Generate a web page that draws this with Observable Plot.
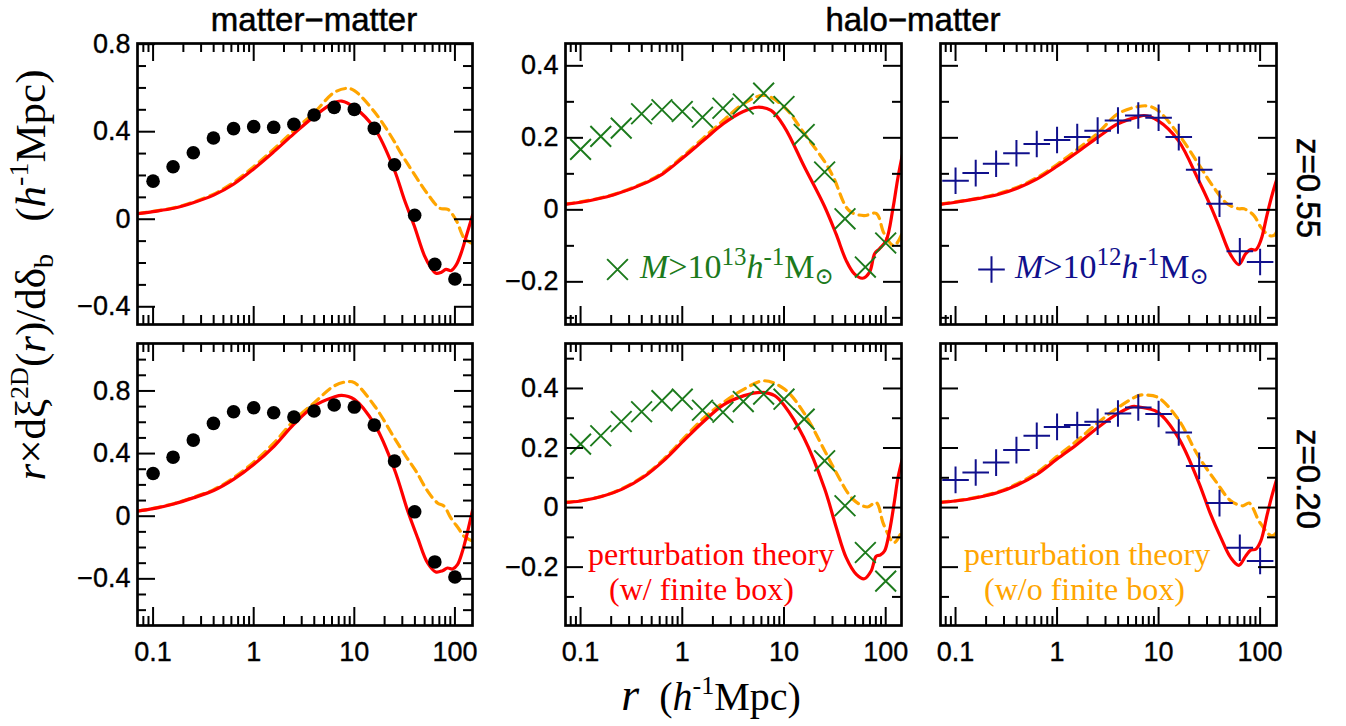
<!DOCTYPE html>
<html><head><meta charset="utf-8">
<script src="https://cdn.jsdelivr.net/npm/d3@7"></script>
<script src="https://cdn.jsdelivr.net/npm/@observablehq/plot@0.6"></script>
<style>
html,body{margin:0;padding:0;background:#fff;}
#root{position:relative;width:1346px;height:726px;overflow:hidden;background:#fff;}
.panel{position:absolute;}
.panel svg{overflow:visible;}
.panel svg text{stroke:black;stroke-width:0.35px;}
#overlay{position:absolute;left:0;top:0;pointer-events:none;}
.heavy{stroke:black;stroke-width:0.5px;}
</style></head>
<body><div id="root"></div>
<script>
// ---------- data ----------
const rBins = [0.1, 0.158, 0.251, 0.398, 0.631, 1, 1.58, 2.51, 3.98, 6.31, 10, 15.8, 25.1, 39.8, 63.1, 100];

// simulation points
const mmZ055   = [0.174, 0.240, 0.304, 0.371, 0.414, 0.423, 0.420, 0.434, 0.476, 0.511, 0.502, 0.415, 0.249, 0.018, -0.206, -0.273];
const mmZ020   = [0.273, 0.377, 0.486, 0.593, 0.667, 0.693, 0.661, 0.633, 0.672, 0.710, 0.697, 0.582, 0.352, 0.028, -0.292, -0.388];
const hm13Z055 = [0.168, 0.204, 0.227, 0.267, 0.278, 0.273, 0.257, 0.282, 0.294, 0.324, 0.287, 0.209, 0.105, -0.025, -0.159, -0.092];
const hm13Z020 = [0.213, 0.241, 0.289, 0.322, 0.359, 0.364, 0.327, 0.320, 0.356, 0.381, 0.364, 0.297, 0.157, 0.006, -0.151, -0.247];
const hm12Z055 = [0.081, 0.102, 0.128, 0.157, 0.183, 0.194, 0.202, 0.220, 0.248, 0.262, 0.256, 0.202, 0.111, 0.017, -0.115, -0.145];
const hm12Z020 = [0.093, 0.118, 0.151, 0.193, 0.241, 0.271, 0.277, 0.288, 0.316, 0.336, 0.314, 0.252, 0.140, 0.015, -0.135, -0.179];

// perturbation theory, with finite box (red) and without (orange)
const finMm055R = [0.07, 0.1, 0.16, 0.25, 0.4, 0.63, 1.0, 1.6, 2.5, 4.0, 6.3, 7.5, 10, 15.9, 25, 31.4, 39.4, 49.6, 57.9, 64.9, 72.8, 81.6, 91.5, 102.6, 115, 129, 150];
const finMm055V = [0.025, 0.035, 0.05, 0.075, 0.11, 0.16, 0.23, 0.31, 0.39, 0.47, 0.533, 0.54, 0.511, 0.415, 0.225, 0.09, -0.03, -0.165, -0.222, -0.247, -0.243, -0.229, -0.235, -0.21, -0.156, -0.081, 0.02];
const nobMm055R = [0.07, 0.1, 0.16, 0.25, 0.4, 0.63, 1.0, 1.6, 2.5, 4.0, 6.3, 8.5, 10, 15.9, 25, 28, 41.5, 53, 71, 85, 103, 124, 150];
const nobMm055V = [0.026, 0.036, 0.052, 0.078, 0.115, 0.168, 0.24, 0.322, 0.405, 0.487, 0.579, 0.598, 0.588, 0.49, 0.355, 0.314, 0.19, 0.118, 0.05, 0.045, -0.005, -0.087, -0.112];

const finMm020R = [0.07, 0.1, 0.16, 0.25, 0.4, 0.63, 1, 1.6, 2.5, 4, 6.3, 7.5, 10, 15.9, 25, 33.9, 42.7, 53.5, 64.5, 75.3, 84.5, 94.7, 106, 118.8, 131.5, 150];
const finMm020V = [0.032, 0.048, 0.078, 0.117, 0.164, 0.235, 0.33, 0.448, 0.586, 0.704, 0.761, 0.772, 0.746, 0.586, 0.3, 0.035, -0.14, -0.299, -0.356, -0.348, -0.331, -0.337, -0.309, -0.224, -0.117, 0.04];
const nobMm020R = [0.07, 0.1, 0.16, 0.25, 0.4, 0.63, 1, 1.6, 2.5, 4, 6.3, 8.5, 10, 15.9, 25, 32, 41, 53.5, 67, 78, 91, 110, 123, 150];
const nobMm020V = [0.033, 0.05, 0.08, 0.12, 0.17, 0.245, 0.345, 0.47, 0.61, 0.725, 0.832, 0.859, 0.853, 0.704, 0.5, 0.39, 0.288, 0.16, 0.085, 0.064, -0.011, -0.083, -0.128, -0.16];

const finH13055R = [0.07, 0.1, 0.213, 0.454, 0.643, 1.03, 1.62, 2.53, 3.98, 5.52, 7.46, 10.1, 15.9, 25, 32.5, 40.9, 49.2, 59.3, 69.4, 77.8, 86.9, 101, 117.7, 132, 150];
const finH13055V = [0.015, 0.021, 0.042, 0.077, 0.1, 0.146, 0.193, 0.239, 0.273, 0.285, 0.276, 0.23, 0.119, 0.01, -0.067, -0.141, -0.178, -0.19, -0.173, -0.122, -0.108, -0.085, 0.003, 0.09, 0.17];
const nobH13055R = [0.07, 0.1, 0.213, 0.454, 0.643, 1.03, 1.62, 2.53, 3.98, 6.4, 10.1, 15.9, 25.9, 31, 43.6, 61, 80.6, 96.6, 121, 150];
const nobH13055V = [0.016, 0.022, 0.043, 0.079, 0.103, 0.15, 0.2, 0.248, 0.294, 0.318, 0.285, 0.211, 0.128, 0.087, -0.002, -0.016, -0.01, -0.066, -0.1, -0.055];

const finH12055R = [0.07, 0.1, 0.164, 0.257, 0.406, 0.637, 1.0, 1.58, 2.53, 3.99, 6.33, 7.2, 9.85, 15.6, 24.5, 32, 39.3, 51.3, 61.8, 72, 80.8, 90.6, 101.6, 117.6, 132, 150];
const finH12055V = [0.015, 0.021, 0.031, 0.042, 0.06, 0.086, 0.121, 0.16, 0.202, 0.239, 0.259, 0.262, 0.248, 0.193, 0.085, 0.015, -0.045, -0.125, -0.152, -0.122, -0.11, -0.111, -0.085, -0.011, 0.044, 0.095];
const nobH12055R = [0.07, 0.1, 0.164, 0.257, 0.406, 0.637, 1.0, 1.58, 2.53, 3.99, 6.33, 8, 9.85, 15.6, 25, 34.8, 47.3, 61.8, 69.4, 87, 101.6, 122, 137, 150];
const nobH12055V = [0.016, 0.022, 0.032, 0.044, 0.063, 0.09, 0.126, 0.168, 0.214, 0.267, 0.287, 0.288, 0.276, 0.211, 0.125, 0.063, 0.017, 0.003, 0.003, -0.016, -0.048, -0.071, -0.071, -0.052];

const finH13020R = [0.07, 0.1, 0.161, 0.257, 0.41, 0.653, 1.03, 1.62, 2.54, 4.06, 5.94, 8.1, 10.1, 15.6, 25, 32.6, 40.9, 51.4, 61.6, 71.9, 80.7, 88.8, 97.4, 109, 122, 132, 150];
const finH13020V = [0.017, 0.022, 0.037, 0.062, 0.101, 0.157, 0.224, 0.289, 0.345, 0.376, 0.387, 0.376, 0.342, 0.236, 0.065, -0.066, -0.168, -0.224, -0.239, -0.213, -0.163, -0.159, -0.146, -0.079, 0.022, 0.1, 0.18];
const nobH13020R = [0.07, 0.1, 0.161, 0.257, 0.41, 0.653, 1.03, 1.62, 2.54, 4.06, 6.4, 10.1, 15.6, 25.1, 31.3, 47.6, 66, 80.7, 95.3, 121, 150];
const nobH13020V = [0.018, 0.023, 0.038, 0.064, 0.104, 0.162, 0.232, 0.3, 0.353, 0.398, 0.426, 0.398, 0.32, 0.191, 0.129, 0.028, 0.002, 0.017, -0.056, -0.118, -0.065];

const finH12020R = [0.07, 0.1, 0.164, 0.257, 0.406, 0.637, 1.0, 1.58, 2.53, 3.99, 5.5, 6.33, 9.85, 15.6, 24.5, 32.5, 40.9, 51.3, 61.8, 72, 80.8, 90.6, 101.6, 117.6, 132, 150];
const finH12020V = [0.017, 0.022, 0.034, 0.05, 0.076, 0.112, 0.163, 0.213, 0.269, 0.316, 0.339, 0.338, 0.32, 0.236, 0.09, -0.022, -0.1, -0.168, -0.194, -0.163, -0.143, -0.14, -0.112, -0.022, 0.045, 0.11];
const nobH12020R = [0.07, 0.1, 0.164, 0.257, 0.406, 0.637, 1.0, 1.58, 2.53, 3.99, 6.33, 7.5, 9.85, 15.6, 24.5, 37.3, 51.3, 67.7, 78, 99.4, 130, 150];
const nobH12020V = [0.018, 0.023, 0.035, 0.052, 0.08, 0.118, 0.172, 0.225, 0.285, 0.336, 0.376, 0.378, 0.37, 0.297, 0.174, 0.084, 0.023, 0.006, 0.015, -0.05, -0.095, -0.078];

// ticks
const xMajor = [0.1, 1, 10, 100];
const xMinor = [0.08, 0.09, 0.2, 0.3, 0.4, 0.5, 0.6, 0.7, 0.8, 0.9, 2, 3, 4, 5, 6, 7, 8, 9, 20, 30, 40, 50, 60, 70, 80, 90];
const yMajorMm = [-0.4, 0, 0.4, 0.8];
const yMinorMm055 = [-0.3, -0.2, -0.1, 0.1, 0.2, 0.3, 0.5, 0.6, 0.7];
const yMinorMm020 = [-0.6, -0.5, -0.3, -0.2, -0.1, 0.1, 0.2, 0.3, 0.5, 0.6, 0.7, 0.9, 1.0];
const yMajorHm = [-0.2, 0, 0.2, 0.4];
const yMinorHm055 = [-0.3, -0.1, 0.1, 0.3];
const yMinorHm020 = [-0.3, -0.1, 0.1, 0.3, 0.5];

// colours
const RED = "#ff0000", ORANGE = "#ffa500", GREEN = "#1c7a1c", NAVY = "#10108c";

// layout of frames (px)
const colLeft = [137, 565, 940], colWidth = [335, 336, 336];
const rowTop = [43, 343], rowHeight = [281, 282];
const colXDomain = [[0.07, 149.5], [0.0711, 143], [0.0711, 145]];

const ML = 90, MR = 14, MT = 14, MB = 55;
const SANS = "'Liberation Sans', Arial, Helvetica, sans-serif";
const SERIF = "'Liberation Serif', 'Times New Roman', 'DejaVu Serif', serif";

const fmtY = d => d === 0 ? "0" : (d < 0 ? "\u2212" : "") + Math.abs(d).toFixed(1);

const root = document.getElementById("root");

function makePanel(p) {
  const fw = colWidth[p.col], fh = rowHeight[p.row];
  const marks = [];
  marks.push(Plot.line(p.nobR, {x: p.nobR, y: p.nobV, stroke: ORANGE, strokeWidth: 3.2, strokeDasharray: "9,6", curve: "catmull-rom", clip: true}));
  marks.push(Plot.line(p.finR, {x: p.finR, y: p.finV, stroke: RED, strokeWidth: 3.2, curve: "catmull-rom", clip: true}));
  if (p.kind === "circle") {
    marks.push(Plot.dot(rBins, {x: rBins, y: p.pts, r: 6.8, fill: "black", stroke: "none"}));
  } else if (p.kind === "times") {
    marks.push(Plot.dot(rBins, {x: rBins, y: p.pts, r: 9.5, symbol: "times", stroke: GREEN, strokeWidth: 1.9}));
  } else {
    marks.push(Plot.dot(rBins, {x: rBins, y: p.pts, r: 8.6, symbol: "plus", stroke: NAVY, strokeWidth: 2}));
  }
  if (p.legend) {
    marks.push(Plot.dot([0], {frameAnchor: "top-left", dx: p.legend.dx, dy: p.legend.dy, r: p.kind === "times" ? 9.5 : 8.6,
      symbol: p.kind, stroke: p.kind === "times" ? GREEN : NAVY, strokeWidth: p.kind === "times" ? 1.9 : 2}));
  }
  const tk = {stroke: "black", strokeWidth: 2};
  const xt = (vals, len) => [
    Plot.ruleX(vals, {x: d => d, insetBottom: fh - len, ...tk}),
    Plot.ruleX(vals, {x: d => d, insetTop: fh - len, ...tk})
  ];
  const yt = (vals, len) => [
    Plot.ruleY(vals, {y: d => d, insetRight: fw - len, ...tk}),
    Plot.ruleY(vals, {y: d => d, insetLeft: fw - len, ...tk})
  ];
  marks.push(...xt(xMajor, 18), ...xt(xMinor, 9), ...yt(p.yMajor, 18), ...yt(p.yMinor, 9));
  marks.push(Plot.frame({stroke: "black", strokeWidth: 2.7}));
  if (p.yLabels) marks.push(Plot.axisY(p.yMajor, {tickSize: 0, tickPadding: 7, tickFormat: fmtY, label: null, fontSize: 27}));
  if (p.xLabels) marks.push(Plot.axisX(xMajor, {tickSize: 0, tickPadding: 16, tickFormat: d => String(d), label: null, fontSize: 27}));

  const chart = Plot.plot({
    width: fw + ML + MR, height: fh + MT + MB,
    marginLeft: ML, marginRight: MR, marginTop: MT, marginBottom: MB,
    x: {type: "log", domain: colXDomain[p.col], axis: p.xLabels ? undefined : null},
    y: {domain: p.yDomain, axis: p.yLabels ? undefined : null},
    style: {fontFamily: SANS, fontSize: "27px", color: "black", background: "transparent", overflow: "visible"},
    marks
  });
  const div = document.createElement("div");
  div.className = "panel";
  div.style.left = (colLeft[p.col] - ML) + "px";
  div.style.top = (rowTop[p.row] - MT) + "px";
  div.style.width = (fw + ML + MR) + "px";
  div.appendChild(chart);
  root.appendChild(div);
}

const panels = [
  {col: 0, row: 0, yDomain: [-0.481, 0.803], yMajor: yMajorMm, yMinor: yMinorMm055, yLabels: true, xLabels: false,
   kind: "circle", pts: mmZ055, finR: finMm055R, finV: finMm055V, nobR: nobMm055R, nobV: nobMm055V},
  {col: 1, row: 0, yDomain: [-0.3185, 0.462], yMajor: yMajorHm, yMinor: yMinorHm055, yLabels: true, xLabels: false,
   kind: "times", pts: hm13Z055, finR: finH13055R, finV: finH13055V, nobR: nobH13055R, nobV: nobH13055V, legend: {dx: 52, dy: 226}},
  {col: 2, row: 0, yDomain: [-0.3185, 0.462], yMajor: yMajorHm, yMinor: yMinorHm055, yLabels: false, xLabels: false,
   kind: "plus", pts: hm12Z055, finR: finH12055R, finV: finH12055V, nobR: nobH12055R, nobV: nobH12055V, legend: {dx: 51, dy: 226}},
  {col: 0, row: 1, yDomain: [-0.698, 1.103], yMajor: yMajorMm, yMinor: yMinorMm020, yLabels: true, xLabels: true,
   kind: "circle", pts: mmZ020, finR: finMm020R, finV: finMm020V, nobR: nobMm020R, nobV: nobMm020V},
  {col: 1, row: 1, yDomain: [-0.396, 0.551], yMajor: yMajorHm, yMinor: yMinorHm020, yLabels: true, xLabels: true,
   kind: "times", pts: hm13Z020, finR: finH13020R, finV: finH13020V, nobR: nobH13020R, nobV: nobH13020V},
  {col: 2, row: 1, yDomain: [-0.396, 0.551], yMajor: yMajorHm, yMinor: yMinorHm020, yLabels: false, xLabels: true,
   kind: "plus", pts: hm12Z020, finR: finH12020R, finV: finH12020V, nobR: nobH12020R, nobV: nobH12020V}
];
panels.forEach(makePanel);

// ---------- text overlay ----------
const ov = d3.select("#root").append("svg").attr("id", "overlay").attr("width", 1346).attr("height", 726);

function rich({x, y, anchor = "start", size, family, fill = "black", rotate = 0, heavy = false, segs}) {
  const t = ov.append("text")
    .attr("transform", `translate(${x},${y}) rotate(${rotate})`)
    .attr("text-anchor", anchor).attr("fill", fill)
    .style("font-family", family).style("font-size", size + "px").style("white-space", "pre");
  if (heavy) t.attr("class", "heavy");
  for (const s of segs) {
    const ts = t.append("tspan").text(s.t);
    if (s.i) ts.style("font-style", "italic");
    if (s.size) ts.style("font-size", s.size + "px");
    if (s.dy) ts.attr("dy", s.dy);
  }
}

// column titles
rich({x: 314, y: 31, anchor: "middle", size: 33, family: SANS, heavy: true, segs: [{t: "matter\u2212matter"}]});
rich({x: 913, y: 31, anchor: "middle", size: 33, family: SANS, heavy: true, segs: [{t: "halo\u2212matter"}]});
// redshift labels
rich({x: 1297, y: 188, anchor: "middle", size: 33, family: SANS, rotate: 90, heavy: true, segs: [{t: "z=0.55"}]});
rich({x: 1297, y: 479, anchor: "middle", size: 33, family: SANS, rotate: 90, heavy: true, segs: [{t: "z=0.20"}]});
// y-axis label
rich({x: 45, y: 275, anchor: "middle", size: 43, family: SERIF, rotate: -90, segs: [
  {t: "r", i: true}, {t: "\u00d7d\u03be"}, {t: "2D", size: 26, dy: -17}, {t: "(", dy: 17}, {t: "r", i: true},
  {t: ")/d\u03b4"}, {t: "b", size: 28, dy: 8}, {t: "   (", dy: -8}, {t: "h", i: true},
  {t: "-1", size: 28, dy: -17}, {t: "Mpc)", dy: 17}
]});
// x-axis label
rich({x: 711, y: 710, anchor: "middle", size: 40, family: SERIF, segs: [
  {t: "r", i: true, size: 46}, {t: "  ("}, {t: "h", i: true}, {t: "-1", size: 26, dy: -16}, {t: "Mpc)", dy: 16}
]});
// legends
const legendSegs = exp => [
  {t: "M", i: true}, {t: ">10"}, {t: exp, size: 25, dy: -13}, {t: "h", i: true, dy: 13},
  {t: "-1", size: 25, dy: -13}, {t: "M", dy: 13}, {t: "\u2299", size: 23, dy: 6}
];
rich({x: 640, y: 278, size: 34, family: SERIF, fill: GREEN, segs: legendSegs("13")});
rich({x: 1015, y: 278, size: 34, family: SERIF, fill: NAVY, segs: legendSegs("12")});
// curve annotations
rich({x: 588, y: 565, size: 32, family: SERIF, fill: RED, segs: [{t: "perturbation theory"}]});
rich({x: 609, y: 600, size: 32, family: SERIF, fill: RED, segs: [{t: "(w/ finite box)"}]});
rich({x: 964, y: 565, size: 32, family: SERIF, fill: ORANGE, segs: [{t: "perturbation theory"}]});
rich({x: 984, y: 600, size: 32, family: SERIF, fill: ORANGE, segs: [{t: "(w/o finite box)"}]});
</script>
</body></html>
